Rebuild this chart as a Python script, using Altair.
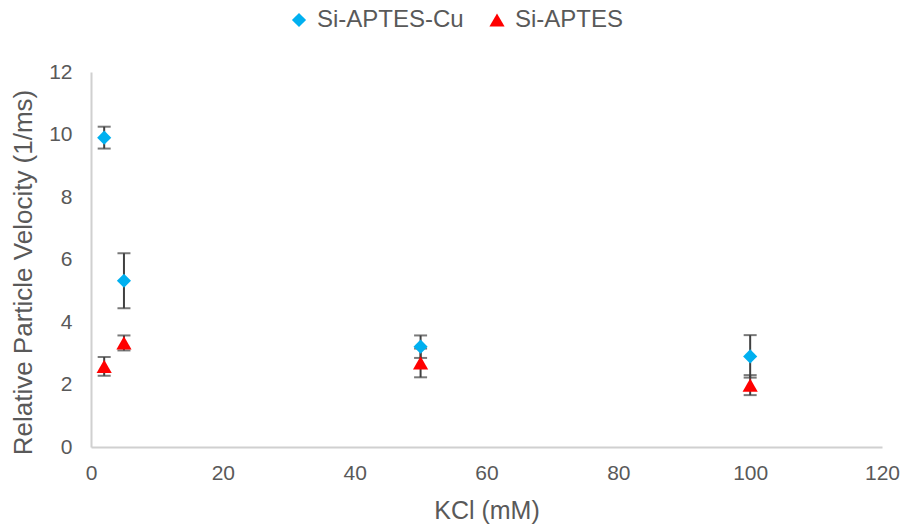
import altair as alt
import pandas as pd

# KCl concentrations (mM)
kcl = [2, 5, 50, 100]

# Si-APTES-Cu: mean relative particle velocity and error
cu_mean = [9.90, 5.32, 3.21, 2.90]
cu_err = [0.35, 0.88, 0.36, 0.68]

# Si-APTES: mean relative particle velocity and error
aptes_mean = [2.58, 3.33, 2.69, 1.98]
aptes_err = [0.30, 0.24, 0.46, 0.32]

series_names = ["Si-APTES-Cu", "Si-APTES"]
series_colors = ["#00B0F0", "#FF0000"]
series_shapes = ["diamond", "triangle-up"]

rows = []
for name, means, errs in [
    (series_names[0], cu_mean, cu_err),
    (series_names[1], aptes_mean, aptes_err),
]:
    for k, m, e in zip(kcl, means, errs):
        rows.append({"kcl": k, "v": m, "lo": m - e, "hi": m + e, "series": name})
df = pd.DataFrame(rows)

FONT = "Liberation Sans"
TEXT = "#595959"

x_enc = alt.X(
    "kcl:Q",
    scale=alt.Scale(domain=[0, 120], nice=False),
    axis=alt.Axis(
        title="KCl (mM)",
        values=[0, 20, 40, 60, 80, 100, 120],
        grid=False,
        ticks=False,
        labelFlush=False,
        domainColor="#D0D0D0",
        domainWidth=2,
        labelFont=FONT,
        labelFontSize=21,
        labelColor=TEXT,
        labelPadding=15,
        titleFont=FONT,
        titleFontSize=25,
        titleFontWeight="normal",
        titleColor=TEXT,
        titlePadding=15,
    ),
)

y_axis = alt.Axis(
    title="Relative Particle Velocity (1/ms)",
    values=[0, 2, 4, 6, 8, 10, 12],
    grid=False,
    ticks=False,
    labelFlush=False,
    domainColor="#D0D0D0",
    domainWidth=2,
    labelFont=FONT,
    labelFontSize=21,
    labelColor=TEXT,
    labelPadding=19,
    titleFont=FONT,
    titleFontSize=26,
    titleFontWeight="normal",
    titleColor=TEXT,
    titlePadding=12,
    titleY=200,
)

base = alt.Chart(df)

err_rule = base.mark_rule(color="#404040", strokeWidth=2).encode(
    x=x_enc,
    y=alt.Y("lo:Q", scale=alt.Scale(domain=[0, 12], nice=False), axis=y_axis),
    y2="hi:Q",
)
cap_lo = base.mark_tick(color="#404040", orient="horizontal", size=13, thickness=2).encode(
    x="kcl:Q", y="lo:Q"
)
cap_hi = base.mark_tick(color="#404040", orient="horizontal", size=13, thickness=2).encode(
    x="kcl:Q", y="hi:Q"
)

color_scale = alt.Scale(domain=series_names, range=series_colors)
shape_scale = alt.Scale(domain=series_names, range=series_shapes)

legend = alt.Legend(
    title=None,
    orient="none",
    direction="horizontal",
    legendX=196,
    legendY=-64,
    labelFont=FONT,
    labelFontSize=24,
    labelColor=TEXT,
    symbolSize=90,
    symbolStrokeWidth=0,
    columnPadding=21,
    labelOffset=6,
    labelLimit=300,
)

points = base.mark_point(filled=True, opacity=1, strokeWidth=0).encode(
    x="kcl:Q",
    y="v:Q",
    color=alt.Color("series:N", scale=color_scale, legend=legend, sort=series_names),
    shape=alt.Shape("series:N", scale=shape_scale, legend=legend, sort=series_names),
    size=alt.Size(
        "series:N",
        scale=alt.Scale(domain=series_names, range=[200, 230]),
        legend=None,
    ),
    order=alt.Order("series:N", sort="descending"),
)

chart = (
    alt.layer(err_rule, cap_lo, cap_hi, points)
    .properties(
        width=791,
        height=375,
        autosize=alt.AutoSizeParams(type="none"),
        padding={"left": 91, "top": 72, "right": 27, "bottom": 79},
        background="white",
    )
    .configure_view(stroke=None)
)

chart.save("out.html", embed_options={"renderer": "svg", "actions": False})
